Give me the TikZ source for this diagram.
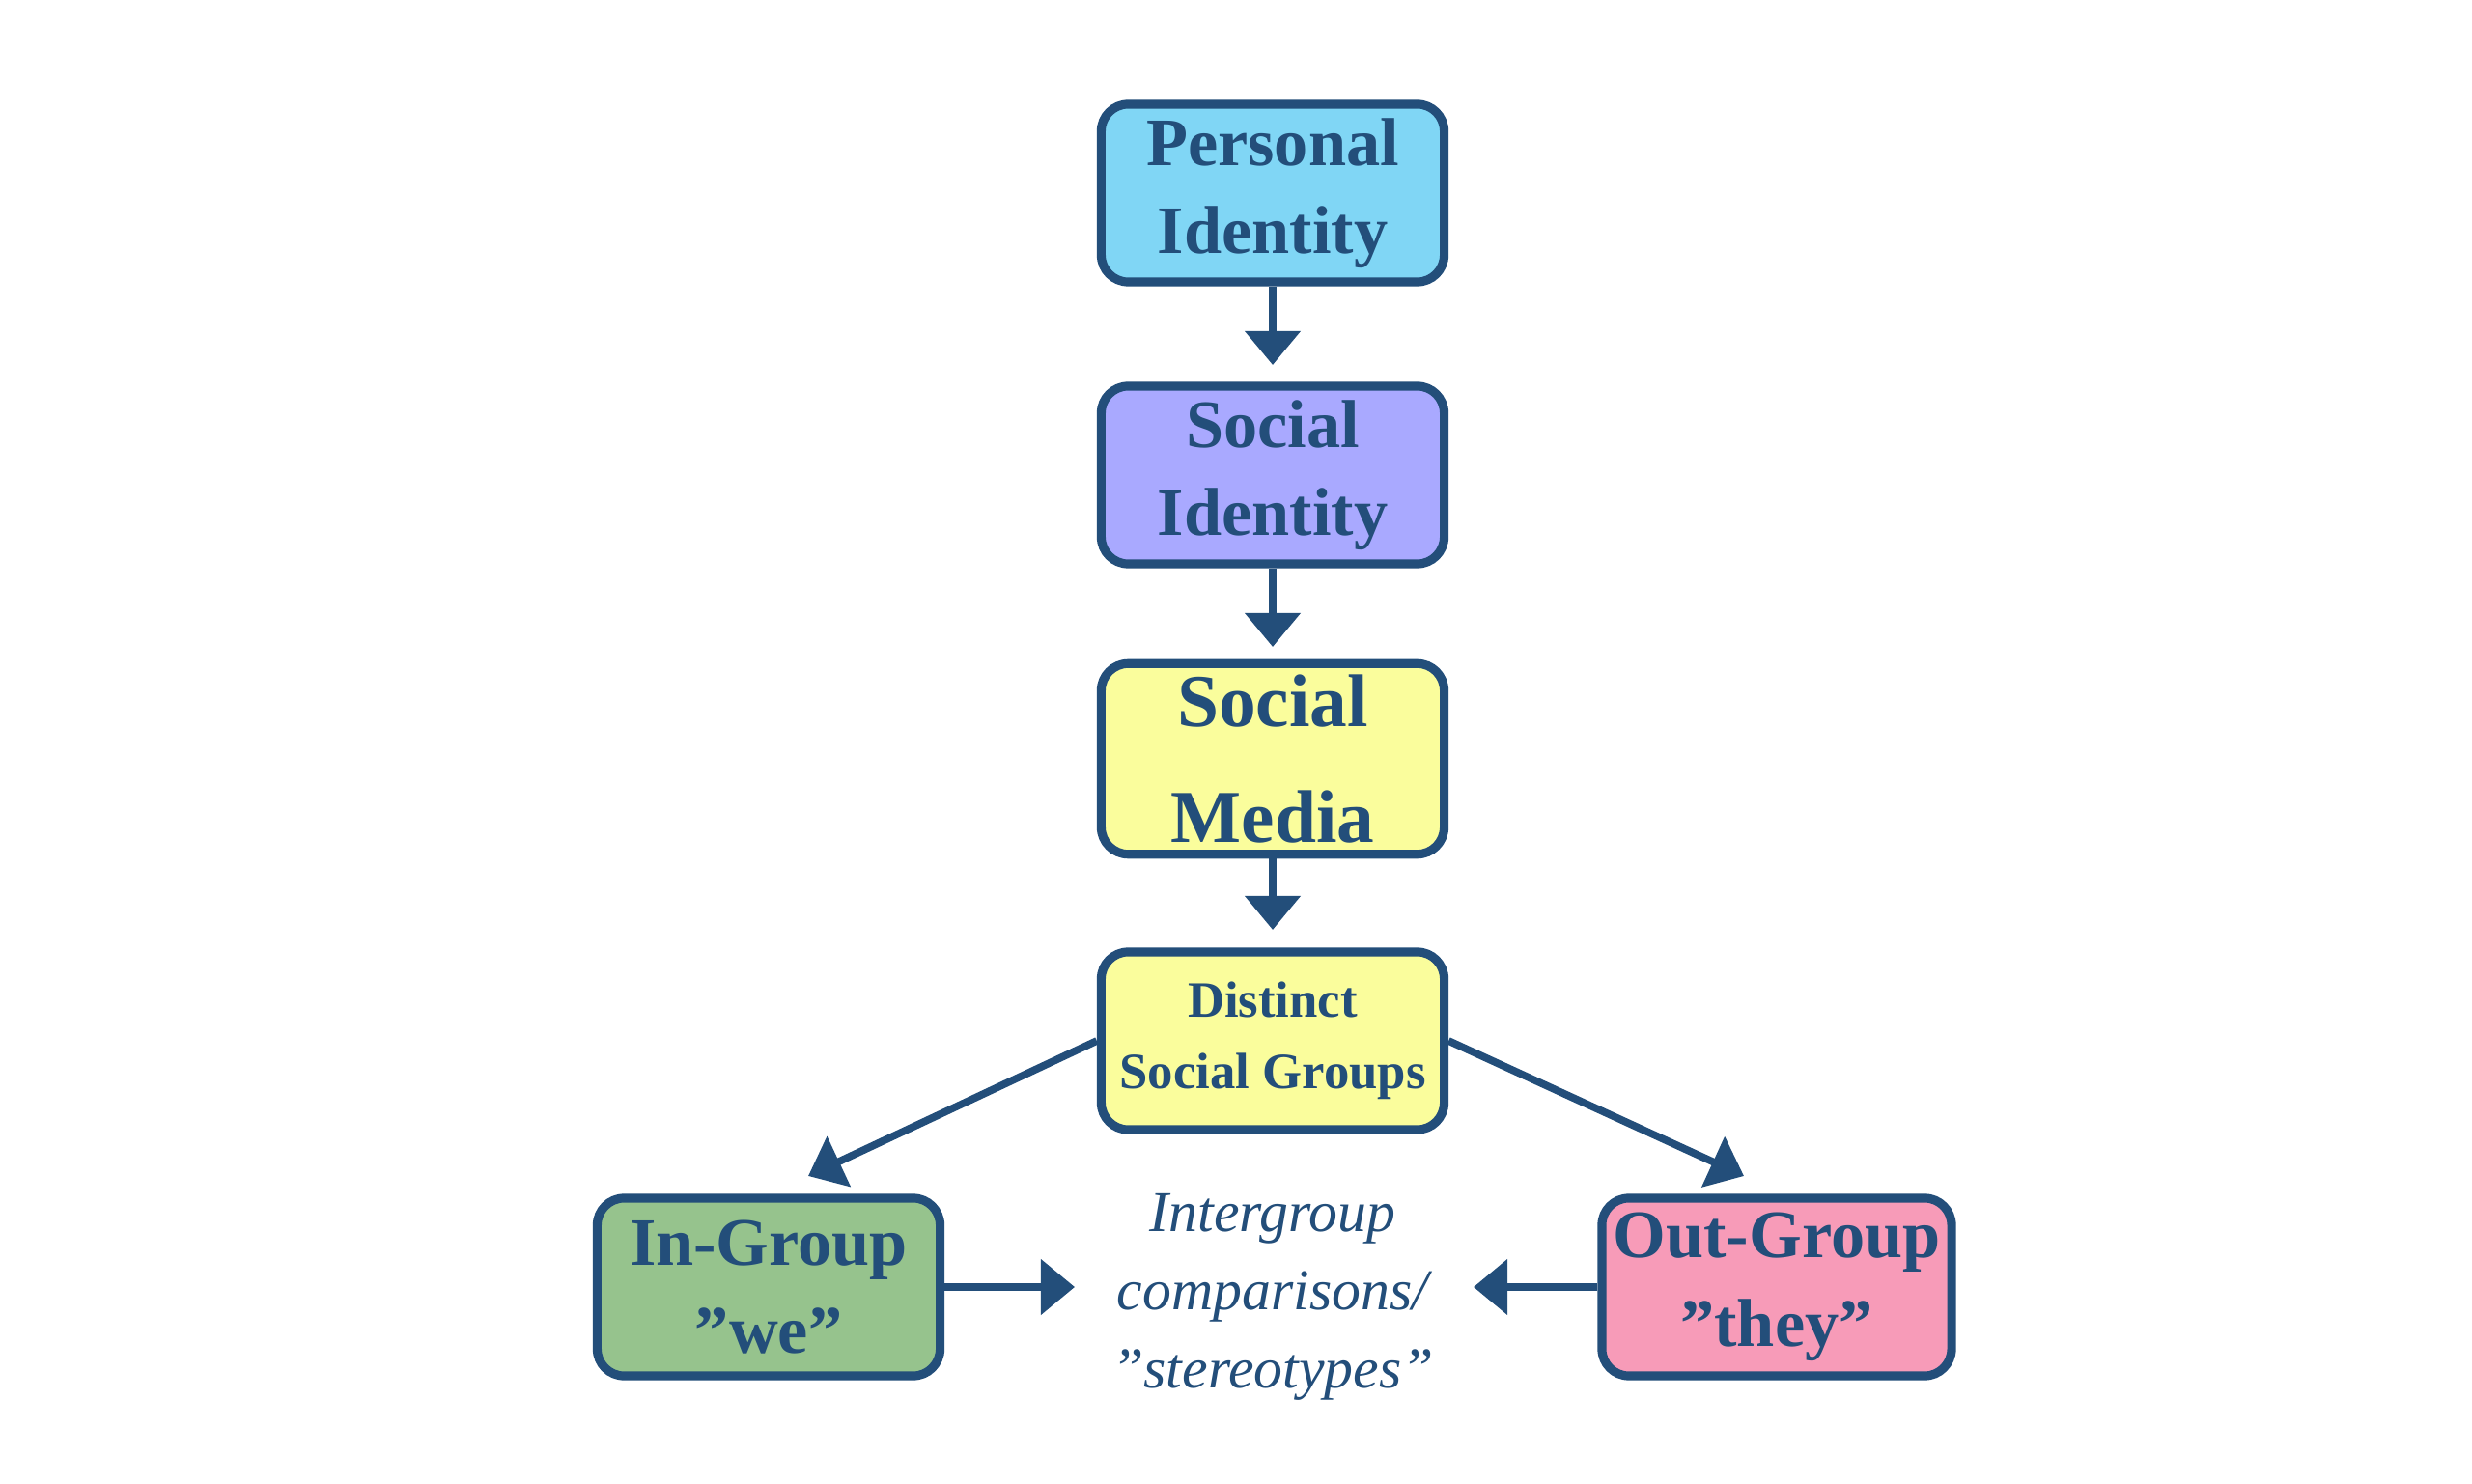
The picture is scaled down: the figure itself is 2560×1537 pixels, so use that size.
\documentclass[tikz,border=0pt]{standalone}
\usepackage{fontspec}
\setmainfont{Liberation Serif}
\usetikzlibrary{arrows.meta}
\definecolor{bd}{HTML}{234E7A}
\definecolor{cA}{HTML}{80D6F5}
\definecolor{cB}{HTML}{A9A9FF}
\definecolor{cC}{HTML}{FAFD9C}
\definecolor{cD}{HTML}{96C38D}
\definecolor{cE}{HTML}{F79BB8}
\begin{document}
\begin{tikzpicture}[x=0.01cm,y=-0.01cm,
  box/.style={draw=bd,line width=2.6pt,rounded corners=0.28cm,minimum width=3.55cm,minimum height=1.84cm,align=center,text=bd,font=\bfseries\fontsize{20}{26}\selectfont},
  arr/.style={draw=bd,line width=2.2pt,-{Triangle[width=16pt,length=10pt]}}]
\useasboundingbox (0,0) rectangle (2560,1537);
\node[box,fill=cA] (p) at (1318,200) {Personal\\Identity};
\node[box,fill=cB] (s) at (1318,492) {Social\\Identity};
\node[box,fill=cC,font=\bfseries\fontsize{22}{34}\selectfont] (m) at (1318,786) {Social\\Media};
\node[box,fill=cC,font=\bfseries\fontsize{15}{21}\selectfont] (d) at (1318,1078) {Distinct\\Social Groups};
\node[box,fill=cD] (i) at (796,1333) {In-Group\\"we"};
\node[box,fill=cE] (o) at (1840,1333) {Out-Group\\"they"};
\node[text=bd,align=center,font=\itshape\fontsize{17}{23}\selectfont] (t) at (1318,1343) {Intergroup\\comparisons/\\"stereotypes"};
\coordinate (pe) at (1318,378);
\coordinate (se) at (1318,670);
\coordinate (me) at (1318,963);
\coordinate (le) at (837,1218);
\coordinate (re) at (1806,1218);
\coordinate (ie) at (1113,1333);
\coordinate (oe) at (1526,1333);
\draw[arr] (p.south) -- (pe);
\draw[arr] (s.south) -- (se);
\draw[arr] (m.south) -- (me);
\draw[arr] (d.west) -- (le);
\draw[arr] (d.east) -- (re);
\draw[arr] (i.east) -- (ie);
\draw[arr] (o.west) -- (oe);
\end{tikzpicture}
\end{document}
